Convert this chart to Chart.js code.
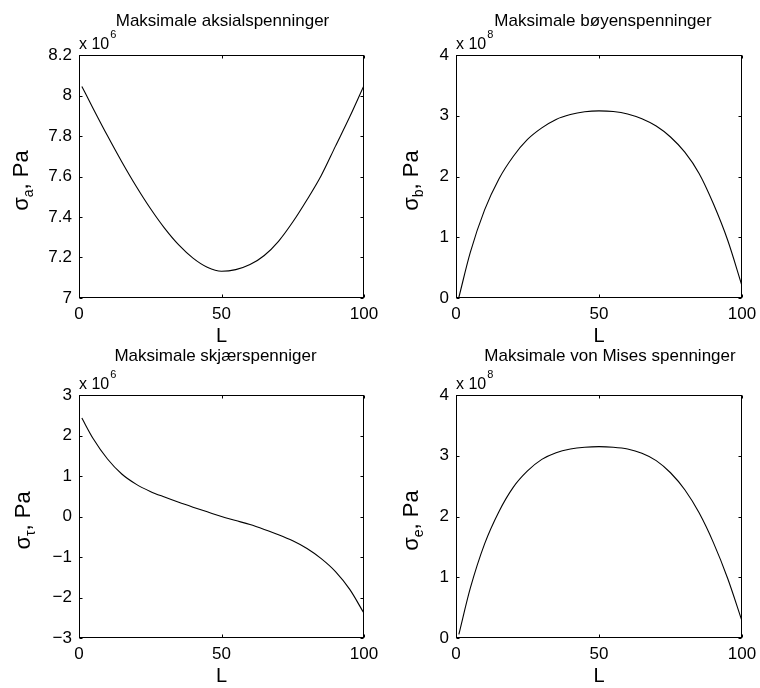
<!DOCTYPE html>
<html>
<head>
<meta charset="utf-8">
<script src="https://cdn.jsdelivr.net/npm/chart.js@4.4.0/dist/chart.umd.min.js"></script>
<style>
  body { margin: 0; background: #fff; }
  #fig { position: relative; width: 760px; height: 688px; background: #fff; }
  .panel { position: absolute; width: 380px; height: 344px; }
</style>
</head>
<body>
<div id="fig">
  <div class="panel" style="left:0;top:0"><canvas id="axial"></canvas></div>
  <div class="panel" style="left:380px;top:0"><canvas id="bending"></canvas></div>
  <div class="panel" style="left:0;top:344px"><canvas id="shear"></canvas></div>
  <div class="panel" style="left:380px;top:344px"><canvas id="mises"></canvas></div>
</div>
<script>
// position along the beam
const L = [1, 5, 10, 15, 20, 25, 30, 35, 40, 45, 50, 55, 60, 65, 70, 75, 80, 85, 90, 95, 100];

// stresses, in units of 1e6 Pa (axial, shear) and 1e8 Pa (bending, von Mises)
const axialStress   = [8.045, 7.935, 7.801, 7.673, 7.553, 7.443, 7.345, 7.262, 7.197, 7.152, 7.132, 7.14, 7.165, 7.21, 7.28, 7.375, 7.485, 7.605, 7.75, 7.895, 8.05];
const bendingStress = [0.01, 0.75, 1.45, 1.96, 2.33, 2.61, 2.80, 2.94, 3.02, 3.065, 3.08, 3.07, 3.03, 2.95, 2.83, 2.65, 2.40, 2.05, 1.55, 0.95, 0.20];
const shearStress   = [2.43, 1.92, 1.42, 1.05, 0.80, 0.62, 0.48, 0.35, 0.23, 0.115, 0.0, -0.10, -0.20, -0.32, -0.45, -0.60, -0.79, -1.04, -1.36, -1.80, -2.39];
const misesStress   = [0.06, 0.82, 1.55, 2.08, 2.48, 2.75, 2.94, 3.05, 3.11, 3.14, 3.15, 3.14, 3.11, 3.04, 2.92, 2.72, 2.44, 2.06, 1.57, 0.98, 0.28];

// y axis: [min, max, step]
const axialAxis   = [7, 8.2, 0.2];
const bendingAxis = [0, 4, 1];
const shearAxis   = [-3, 3, 1];
const misesAxis   = [0, 4, 1];
const xTicks = [0, 50, 100];

const FONT = "'Liberation Sans', Arial, Helvetica, sans-serif";

// frame, inward ticks, titles and labels in the matlab look
const matlabAxes = {
  id: 'matlabAxes',
  afterDraw(chart, args, o) {
    const ctx = chart.ctx;
    const a = chart.chartArea;
    const l = Math.round(a.left) + 0.5, r = Math.round(a.right) - 0.5;
    const t = Math.round(a.top) + 0.5, b = Math.round(a.bottom) - 0.5;
    ctx.save();
    ctx.strokeStyle = '#000';
    ctx.lineWidth = 1;
    ctx.strokeRect(l, t, r - l, b - t);

    ctx.beginPath();
    chart.scales.y.ticks.forEach(tk => {
      const y = Math.round(chart.scales.y.getPixelForValue(tk.value)) + 0.5;
      ctx.moveTo(l, y); ctx.lineTo(l + 3, y);
      ctx.moveTo(r, y); ctx.lineTo(r - 3, y);
    });
    chart.scales.x.ticks.forEach(tk => {
      const x = Math.round(chart.scales.x.getPixelForValue(tk.value)) + 0.5;
      ctx.moveTo(x, t); ctx.lineTo(x, t + 3);
      ctx.moveTo(x, b); ctx.lineTo(x, b - 3);
    });
    ctx.stroke();

    ctx.fillStyle = '#000';
    const cx = (a.left + a.right) / 2;
    const cy = (a.top + a.bottom) / 2;

    // title
    ctx.font = '17px ' + FONT;
    ctx.textAlign = 'center';
    ctx.textBaseline = 'alphabetic';
    ctx.fillText(o.title, cx + o.titleDx, a.top - o.titleGap);

    // x label
    ctx.font = '20px ' + FONT;
    ctx.fillText('L', cx, a.bottom + 44);

    // exponent
    ctx.textAlign = 'left';
    ctx.font = '16px ' + FONT;
    ctx.fillText('x 10', a.left, a.top - 6);
    const w = ctx.measureText('x 10').width;
    ctx.font = '11px ' + FONT;
    ctx.fillText(o.exp, a.left + w + 1, a.top - 17);

    // y label with subscript, rotated
    ctx.translate(a.left - o.labelGap, cy + 4);
    ctx.rotate(-Math.PI / 2);
    ctx.font = '22px ' + FONT;
    const w1 = ctx.measureText('\u03c3').width;
    const w3 = ctx.measureText(', Pa').width;
    ctx.font = '14px ' + FONT;
    const w2 = ctx.measureText(o.sub).width;
    let x0 = -(w1 + w2 + w3) / 2;
    ctx.font = '22px ' + FONT;
    ctx.fillText('\u03c3', x0, 0);
    ctx.font = '14px ' + FONT;
    ctx.fillText(o.sub, x0 + w1, 5);
    ctx.font = '22px ' + FONT;
    ctx.fillText(', Pa', x0 + w1 + w2, 0);
    ctx.restore();
  }
};

function stressChart(id, values, yAxis, area, text) {
  const [ymin, ymax, ystep] = yAxis;
  return new Chart(document.getElementById(id), {
    type: 'line',
    data: {
      datasets: [{
        data: L.map((x, i) => ({ x: x, y: values[i] })),
        borderColor: '#000',
        borderWidth: 1.1,
        pointRadius: 0,
        fill: false,
        cubicInterpolationMode: 'monotone'
      }]
    },
    options: {
      responsive: true,
      maintainAspectRatio: false,
      animation: false,
      layout: { padding: { left: 0, top: area.top, right: 380 - area.right, bottom: 0 } },
      scales: {
        x: {
          type: 'linear',
          min: 0,
          max: 100,
          afterBuildTicks: s => { s.ticks = xTicks.map(v => ({ value: v })); },
          afterFit: s => { s.height = 344 - area.bottom; s.paddingLeft = 0; s.paddingRight = 0; },
          grid: { display: false, drawTicks: false },
          border: { display: false },
          ticks: { color: '#000', padding: 6, maxRotation: 0, font: { family: FONT, size: 17 } }
        },
        y: {
          min: ymin,
          max: ymax,
          afterFit: s => { s.width = area.left; s.paddingTop = 0; s.paddingBottom = 0; },
          grid: { display: false, drawTicks: false },
          border: { display: false },
          ticks: {
            stepSize: ystep,
            color: '#000',
            padding: 7,
            font: { family: FONT, size: 17 },
            callback: v => String(Math.round(v * 10) / 10).replace('-', '\u2212')
          }
        }
      },
      plugins: {
        legend: { display: false },
        tooltip: { enabled: false },
        matlabAxes: text
      }
    },
    plugins: [matlabAxes]
  });
}

stressChart('axial', axialStress, axialAxis,
  { left: 79, top: 55, right: 364, bottom: 298 },
  { title: 'Maksimale aksialspenninger', titleDx: 1, titleGap: 29, exp: '6', sub: 'a', labelGap: 51 });

stressChart('bending', bendingStress, bendingAxis,
  { left: 76, top: 55, right: 362, bottom: 298 },
  { title: 'Maksimale bøyenspenninger', titleDx: 4, titleGap: 29, exp: '8', sub: 'b', labelGap: 38 });

stressChart('shear', shearStress, shearAxis,
  { left: 79, top: 51, right: 364, bottom: 294 },
  { title: 'Maksimale skjærspenniger', titleDx: -6, titleGap: 34, exp: '6', sub: '\u03c4', labelGap: 49 });

stressChart('mises', misesStress, misesAxis,
  { left: 76, top: 51, right: 362, bottom: 294 },
  { title: 'Maksimale von Mises spenninger', titleDx: 11, titleGap: 34, exp: '8', sub: 'e', labelGap: 38 });
</script>
</body>
</html>
